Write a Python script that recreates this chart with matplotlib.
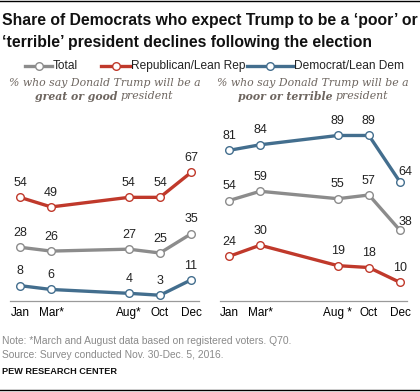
import matplotlib
matplotlib.use("Agg")
import matplotlib.pyplot as plt
from matplotlib.lines import Line2D

# data
months = [1, 3, 8, 10, 12]
tick_left = ["Jan", "Mar*", "Aug*", "Oct", "Dec"]
tick_right = ["Jan", "Mar*", "Aug *", "Oct", "Dec"]

good_total = [28, 26, 27, 25, 35]
good_rep = [54, 49, 54, 54, 67]
good_dem = [8, 6, 4, 3, 11]

poor_total = [54, 59, 55, 57, 38]
poor_rep = [24, 30, 19, 18, 10]
poor_dem = [81, 84, 89, 89, 64]

C_TOT = "#8c8c8c"
C_REP = "#c0392b"
C_DEM = "#436e8e"
C_SUB = "#6e6660"
SANS = ["Liberation Sans", "DejaVu Sans"]

W, H = 420, 392
fig = plt.figure(figsize=(W / 100, H / 100), dpi=100)
renderer = fig.canvas.get_renderer()


def fx(x):
    return x / W


def fy(y):
    return 1 - y / H


def fit_text(x, y, s, width_px, fs=10, **kw):
    # scale font size so the text spans width_px pixels
    t = fig.text(fx(x), fy(y), s, fontsize=fs, **kw)
    w = t.get_window_extent(renderer).width
    t.set_fontsize(fs * width_px / w)
    return t


def make_ax(x0, x1, top, xlim, ylim_top):
    ax = fig.add_axes([fx(x0), fy(301), fx(x1) - fx(x0), fy(top) - fy(301)])
    ax.set_xlim(*xlim)
    ax.set_ylim(0, ylim_top)
    for s in ["top", "right", "left"]:
        ax.spines[s].set_visible(False)
    ax.spines["bottom"].set_color("#9a9a9a")
    ax.spines["bottom"].set_linewidth(0.9)
    ax.set_yticks([])
    ax.tick_params(axis="x", length=0, labelsize=8.5, pad=4)
    ax.patch.set_alpha(0)
    return ax


def draw(ax, vals, color, offsets=None):
    ax.plot(months, vals, color=color, lw=2.4, marker="o", ms=5.5,
            mfc="white", mec=color, mew=1.0, solid_capstyle="round", zorder=3)
    for i, (m, v) in enumerate(zip(months, vals)):
        dx, dy = (0, 6)
        if offsets and i in offsets:
            dx, dy = offsets[i]
        ax.annotate(str(v), (m, v), xytext=(dx, dy), textcoords="offset points",
                    ha="center", va="bottom", fontsize=9, color="#222222",
                    family=SANS)


axL = make_ax(10, 199, 110, (0.357, 12.51), 99.5)
draw(axL, good_total, C_TOT)
draw(axL, good_rep, C_REP)
draw(axL, good_dem, C_DEM)
axL.set_xticks(months)
axL.set_xticklabels(tick_left, family=SANS)

axR = make_ax(220, 407, 110, (0.42, 12.45), 102.7)
draw(axR, poor_total, C_TOT, {4: (4, 2)})
draw(axR, poor_rep, C_REP)
draw(axR, poor_dem, C_DEM, {4: (4, 3)})
axR.set_xticks(months)
axR.set_xticklabels(tick_right, family=SANS)

# title
title_kw = dict(family=SANS, fontweight="bold", va="center", ha="left", color="#111111")
t1 = fit_text(2, 20, "Share of Democrats who expect Trump to be a \u2018poor\u2019 or",
              416, 11, **title_kw)
t2 = fig.text(fx(2), fy(42), "\u2018terrible\u2019 president declines following the election",
              fontsize=t1.get_fontsize(), **title_kw)

# legend
legend_items = [("Total", C_TOT, 25, 52, 78), ("Republican/Lean Rep", C_REP, 101, 130, 240),
                ("Democrat/Lean Dem", C_DEM, 247, 293, 400)]
leg_fs = None
for name, col, x0, x1, xend in legend_items:
    fig.add_artist(Line2D([fx(x0), fx(x1)], [fy(66), fy(66)], color=col, lw=2.4,
                          transform=fig.transFigure))
    fig.add_artist(Line2D([fx((x0 + x1) / 2)], [fy(66)], color=col, marker="o",
                          ms=5.5, mfc="white", mec=col, mew=1.0,
                          transform=fig.transFigure))
    if leg_fs is None:
        t = fit_text(x1 + 1, 66, name, xend - x1 - 1, 8.5, va="center", ha="left",
                     color="#222222", family=SANS)
        leg_fs = t.get_fontsize()
    else:
        fig.text(fx(x1 + 1), fy(66), name, fontsize=leg_fs, va="center", ha="left",
                 color="#222222", family=SANS)

# subtitles
sub_kw = dict(family="DejaVu Serif", style="italic", color=C_SUB, va="center")
s1 = fit_text(105, 83, "% who say Donald Trump will be a", 190, 8.5, ha="center", **sub_kw)
sfs = s1.get_fontsize()
fig.text(fx(121), fy(96), "great or good ", ha="right", fontweight="bold", fontsize=sfs, **sub_kw)
fig.text(fx(121), fy(96), "president", ha="left", fontsize=sfs, **sub_kw)
fig.text(fx(313), fy(83), "% who say Donald Trump will be a", ha="center", fontsize=sfs, **sub_kw)
fig.text(fx(336), fy(96), "poor or terrible ", ha="right", fontweight="bold", fontsize=sfs, **sub_kw)
fig.text(fx(336), fy(96), "president", ha="left", fontsize=sfs, **sub_kw)

# notes
n1 = fit_text(2, 341, "Note: *March and August data based on registered voters. Q70.",
              288, 7, color="#8a8a8a", va="center", family=SANS)
fig.text(fx(2), fy(355), "Source: Survey conducted Nov. 30-Dec. 5, 2016.",
         fontsize=n1.get_fontsize(), color="#8a8a8a", va="center", family=SANS)
fit_text(2, 372, "PEW RESEARCH CENTER", 115, 7, fontweight="bold",
         color="#111111", va="center", family=SANS)

fig.add_artist(Line2D([0, 1], [fy(0.5), fy(0.5)], color="black", lw=1,
                      transform=fig.transFigure))
fig.add_artist(Line2D([0, 1], [fy(390), fy(390)], color="black", lw=1,
                      transform=fig.transFigure))

fig.savefig("out.png", dpi=100)
